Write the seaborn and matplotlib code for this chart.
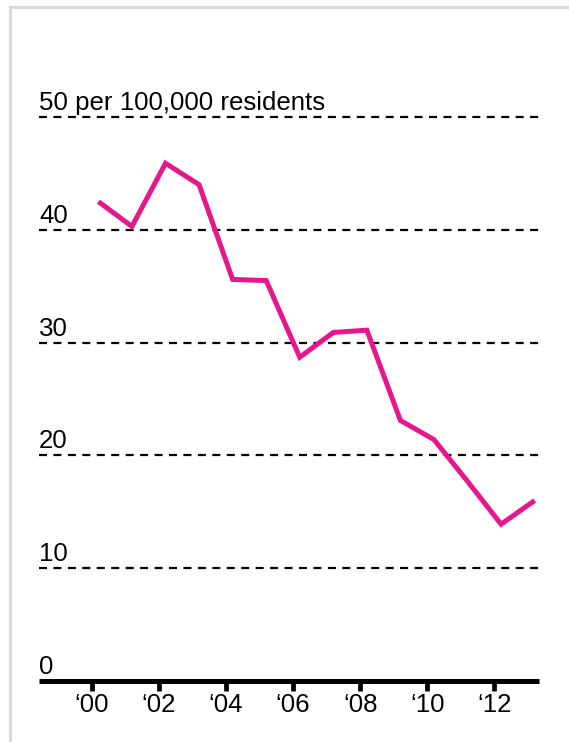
import matplotlib
matplotlib.use("Agg")
import matplotlib.pyplot as plt
import pandas as pd
import seaborn as sns
from matplotlib.patches import Rectangle

# Rate per 100,000 residents, by year
years = list(range(2000, 2014))
rate = [42.5, 40.3, 45.9, 44.0, 35.6, 35.5, 28.7, 30.9, 31.1, 23.1, 21.4, 17.7, 13.9, 16.0]

tick_years = [2000, 2002, 2004, 2006, 2008, 2010, 2012]
tick_labels = ["‘00", "‘02", "‘04", "‘06", "‘08", "‘10", "‘12"]

grid_values = [0, 10, 20, 30, 40, 50]
grid_labels = ["0", "10", "20", "30", "40", "50 per 100,000 residents"]

sns.set_style("white")
plt.rcParams["font.family"] = ["Liberation Sans", "DejaVu Sans"]

fig = plt.figure(figsize=(5.69, 7.42), dpi=100)
ax = fig.add_axes([39 / 569, 61 / 742, 500 / 569, 564 / 742])

df = pd.DataFrame({"year": years, "rate": rate})

# dashed reference lines
for v in grid_values[1:]:
    ax.axhline(v, color="black", lw=1.6, linestyle=(0, (3.6, 2.9)),
               zorder=1, clip_on=False)

sns.lineplot(
    data=df,
    x="year",
    y="rate",
    color="#e6178c",
    linewidth=3.6,
    solid_joinstyle="miter",
    solid_capstyle="butt",
    ax=ax,
    zorder=3
)

for v, lab in zip(grid_values, grid_labels):
    ax.annotate(
        lab,
        xy=(0, v),
        xycoords=("axes fraction", "data"),
        xytext=(0, 5),
        textcoords="offset points",
        ha="left",
        va="baseline",
        fontsize=18.6,
        color="black"
    )

ax.set_xlim(1998.23, 2013.13)
ax.set_ylim(0, 50)

# ticks sit a little before each data point in the original
ax.set_xticks([y - 0.2 for y in tick_years], tick_labels)
ax.set_yticks([])
ax.set_xlabel("")
ax.set_ylabel("")

sns.despine(ax=ax, left=True)
ax.spines["bottom"].set_linewidth(3.6)
ax.spines["bottom"].set_color("black")
ax.spines["bottom"].set_capstyle("butt")
ax.spines["bottom"].set_zorder(4)

ax.tick_params(
    axis="x",
    bottom=True,
    direction="out",
    length=7.2,
    width=3.4,
    pad=1.5,
    labelsize=18.6,
    color="black",
    labelcolor="black"
)

# light frame on left and top
fig.add_artist(
    Rectangle(
        (10 / 569, -0.05),
        1.0,
        (742 - 7) / 742 + 0.05,
        transform=fig.transFigure,
        fill=False,
        edgecolor="#d9d9d9",
        lw=2.2
    )
)

fig.savefig("out.png", dpi=100)
plt.close()
